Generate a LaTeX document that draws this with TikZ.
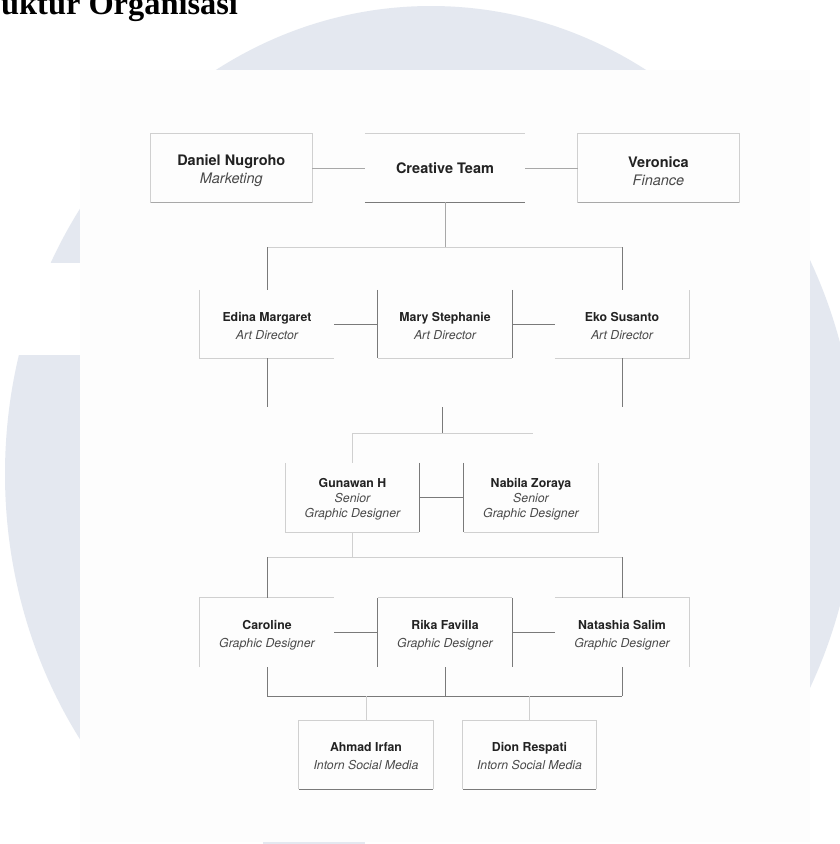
\documentclass[tikz,border=0pt]{standalone}
\usepackage{fontspec}
\setmainfont{TeX Gyre Heros}
\newfontfamily\titlefont{Liberation Serif}
\definecolor{wm}{HTML}{E4E8F0}
\definecolor{panel}{HTML}{FDFDFD}
\definecolor{lite}{HTML}{D0D0D0}
\definecolor{dark}{HTML}{7A7A7A}
\definecolor{mid}{HTML}{A8A8A8}
\definecolor{namec}{HTML}{222222}
\definecolor{rolec}{HTML}{4A4A4A}
\tikzset{
  lt/.style={draw=lite, line width=1pt},
  dk/.style={draw=dark, line width=0.9pt},
  md/.style={draw=mid, line width=1pt},
  boxnode/.style={rectangle, inner sep=0pt, minimum height=68pt, minimum width=134pt},
  txt/.style={inner sep=0pt, align=center, text=namec, font=\fontsize{12.3}{15}\selectfont},
  bigtxt/.style={inner sep=0pt, align=center, text=namec, font=\fontsize{14.5}{18}\selectfont},
}
\newcommand{\rolet}[1]{\textcolor{rolec}{\itshape #1}}
\begin{document}
\begin{tikzpicture}[x=1pt,y=-1pt]
\useasboundingbox (0,0) rectangle (840,844);
% background and watermark
\fill[white] (0,0) rectangle (840,844);
\fill[wm] (431,474) ellipse[x radius=426, y radius=468];
\fill[white] (0,263) rectangle (80,355);
\fill[white] (0,842) rectangle (840,844);
\fill[wm] (263,842) rectangle (365,844);
\fill[panel] (80,70) rectangle (810,842);
\node[anchor=base west, inner sep=0pt, font=\titlefont\bfseries\fontsize{32.4}{36}\selectfont] (title) at (1,14) {uktur Organisasi};

% ---------- row 1 ----------
\node[boxnode, minimum width=161pt] (daniel) at (231.3,168) {};
\node[boxnode, minimum width=160pt] (ct) at (445,168) {};
\node[boxnode, minimum width=161pt] (veronica) at (658.5,168) {};
\node[bigtxt] (daniel-t) at ([yshift=-2.5pt]daniel.center) {\bfseries Daniel Nugroho\\ \rolet{Marketing}};
\node[bigtxt] (ct-t) at (ct.center) {\bfseries Creative Team};
\node[bigtxt] (veronica-t) at ([yshift=-3pt]veronica.center) {\bfseries Veronica\\ \rolet{Finance}};
\draw[lt] (daniel.north west) rectangle (daniel.south east);
\draw[md] (daniel.south west) -- (daniel.south east);
\draw[lt] (veronica.north west) rectangle (veronica.south east);
\draw[md] (veronica.south west) -- (veronica.south east);
\draw[lt] (ct.north west) -- (ct.north east);
\draw[dk] (ct.south west) -- (ct.south east);
\draw[md] (daniel.east) -- (ct.west);
\draw[md] (ct.east) -- (veronica.west);

% ---------- row 2 ----------
\node[boxnode] (edina) at (267,324) {};
\node[boxnode] (mary) at (445,324) {};
\node[boxnode] (eko) at (622,324) {};
\node[txt] (edina-t) at ([yshift=-2.5pt]edina.center) {\bfseries Edina Margaret\\[3pt] \rolet{Art Director}};
\node[txt] (mary-t) at ([yshift=-2.5pt]mary.center) {\bfseries Mary Stephanie\\[3pt] \rolet{Art Director}};
\node[txt] (eko-t) at ([yshift=-2.5pt]eko.center) {\bfseries Eko Susanto\\[3pt] \rolet{Art Director}};
\draw[lt] (edina.north west) -- (edina.south west) -- (edina.south east);
\draw[lt] (mary.south west) -- (mary.south east);
\draw[dk] (mary.north west) -- (mary.south west);
\draw[dk] (mary.north east) -- (mary.south east);
\draw[lt] (eko.south west) -- (eko.south east) -- (eko.north east);
\draw[dk] (edina.east) -- (mary.west);
\draw[dk] (mary.east) -- (eko.west);

\coordinate (bus1) at (445,247);
\draw[md] (ct.south) -- (ct.south |- bus1);
\draw[lt] (edina.north |- bus1) -- (eko.north |- bus1);
\draw[dk] (edina.north |- bus1) -- (edina.north);
\draw[dk] (eko.north |- bus1) -- (eko.north);

\coordinate (edina-end) at (267,407);
\coordinate (eko-end) at (622,407);
\draw[dk] (edina.south) -- (edina-end);
\draw[dk] (eko.south) -- (eko-end);
\coordinate (m1) at (442,407);
\coordinate (m2) at (442,433);
\coordinate (bus2r) at (533,433);
\draw[dk] (m1) -- (m2);

% ---------- row 3 ----------
\node[boxnode, minimum width=133pt, minimum height=69pt] (gunawan) at (352.5,497.5) {};
\node[boxnode, minimum height=69pt] (nabila) at (531,497.5) {};
\node[txt] (gunawan-t) at ([yshift=-1.5pt]gunawan.center) {\bfseries Gunawan H\\ \rolet{Senior}\\ \rolet{Graphic Designer}};
\node[txt] (nabila-t) at ([yshift=-1.5pt]nabila.center) {\bfseries Nabila Zoraya\\ \rolet{Senior}\\ \rolet{Graphic Designer}};
\draw[lt] (gunawan.north west) -- (gunawan.south west) -- (gunawan.south east);
\draw[dk] (gunawan.north east) -- (gunawan.south east);
\draw[lt] (nabila.south west) -- (nabila.south east) -- (nabila.north east);
\draw[dk] (nabila.north west) -- (nabila.south west);
\draw[dk] (gunawan.east) -- (nabila.west);
\draw[lt] (gunawan.north |- m2) -- (bus2r);
\draw[lt] (gunawan.north |- m2) -- (gunawan.north);

% ---------- row 4 ----------
\node[boxnode, minimum height=69pt] (caroline) at (267,632.5) {};
\node[boxnode, minimum height=69pt] (rika) at (445,632.5) {};
\node[boxnode, minimum height=69pt] (natashia) at (622,632.5) {};
\node[txt] (caroline-t) at ([yshift=-2.5pt]caroline.center) {\bfseries Caroline\\[3pt] \rolet{Graphic Designer}};
\node[txt] (rika-t) at ([yshift=-2.5pt]rika.center) {\bfseries Rika Favilla\\[3pt] \rolet{Graphic Designer}};
\node[txt] (natashia-t) at ([yshift=-2.5pt]natashia.center) {\bfseries Natashia Salim\\[3pt] \rolet{Graphic Designer}};
\draw[lt] (caroline.south west) -- (caroline.north west) -- (caroline.north east);
\draw[lt] (rika.north west) -- (rika.north east);
\draw[dk] (rika.north west) -- (rika.south west);
\draw[dk] (rika.north east) -- (rika.south east);
\draw[lt] (natashia.north west) -- (natashia.north east) -- (natashia.south east);
\draw[dk] (caroline.east) -- (rika.west);
\draw[dk] (rika.east) -- (natashia.west);

\coordinate (bus3) at (445,557);
\draw[lt] (gunawan.south) -- (gunawan.south |- bus3);
\draw[lt] (caroline.north |- bus3) -- (natashia.north |- bus3);
\draw[dk] (caroline.north |- bus3) -- (caroline.north);
\draw[dk] (natashia.north |- bus3) -- (natashia.north);

% ---------- row 5 ----------
\node[boxnode] (ahmad) at (366,755) {};
\node[boxnode, minimum width=133pt] (dion) at (529.5,755) {};
\node[txt] (ahmad-t) at ([yshift=-1pt]ahmad.center) {\bfseries Ahmad Irfan\\[3pt] \rolet{Intorn Social Media}};
\node[txt] (dion-t) at ([yshift=-1pt]dion.center) {\bfseries Dion Respati\\[3pt] \rolet{Intorn Social Media}};
\draw[lt] (ahmad.south west) -- (ahmad.north west) -- (ahmad.north east) -- (ahmad.south east);
\draw[dk] (ahmad.south west) -- (ahmad.south east);
\draw[lt] (dion.south west) -- (dion.north west) -- (dion.north east) -- (dion.south east);
\draw[dk] (dion.south west) -- (dion.south east);

\coordinate (bus4) at (445,696);
\draw[dk] (caroline.south) -- (caroline.south |- bus4);
\draw[dk] (rika.south) -- (rika.south |- bus4);
\draw[dk] (natashia.south) -- (natashia.south |- bus4);
\draw[dk] (caroline.south |- bus4) -- (natashia.south |- bus4);
\draw[lt] (ahmad.north |- bus4) -- (ahmad.north);
\draw[lt] (dion.north |- bus4) -- (dion.north);
\end{tikzpicture}
\end{document}
